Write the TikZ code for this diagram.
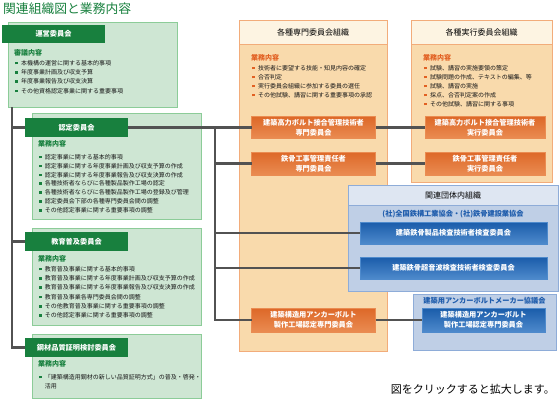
\documentclass[tikz,border=0pt]{standalone}
\usepackage{fontspec}
\setmainfont{Noto Sans CJK JP}
\usepackage{xcolor}
\usepackage{tikz}
\usetikzlibrary{positioning}
\definecolor{kikougreen}{RGB}{24,128,62}
\definecolor{kikoulight}{RGB}{206,230,211}
\definecolor{kikouline}{RGB}{140,204,152}
\definecolor{senmonpeach}{RGB}{249,218,172}
\definecolor{senmonline}{RGB}{242,172,122}
\definecolor{senmoncream}{RGB}{253,244,226}
\definecolor{senmondark}{RGB}{221,104,40}
\definecolor{senmonlite}{RGB}{234,140,82}
\definecolor{senmontext}{RGB}{226,96,34}
\definecolor{dantaiblue}{RGB}{191,207,230}
\definecolor{dantailine}{RGB}{142,172,216}
\definecolor{dantaihead}{RGB}{222,230,242}
\definecolor{dantaidark}{RGB}{26,92,170}
\definecolor{dantailite}{RGB}{78,138,204}
\definecolor{dantaitext}{RGB}{30,92,172}
\definecolor{connline}{RGB}{82,82,82}
\definecolor{itemtext}{RGB}{25,25,25}
\newcommand{\sqmark}[1]{\textcolor{#1}{\rule[0.9pt]{2.6pt}{2.6pt}}\hspace{3.5pt}}
\newcommand{\gitem}{\sqmark{kikougreen}}
\newcommand{\oitem}{\sqmark{senmontext}}
\tikzset{
    panel/.style={inner sep=0, outer sep=0, line width=0.8},
    grnpanel/.style={panel, fill=kikoulight, draw=kikouline},
    grnbar/.style={panel, fill=kikougreen, text=white, minimum width=103, minimum height=19, font=\fontsize{7.2}{8}\selectfont\bfseries},
    orgpanel/.style={panel, fill=senmonpeach, draw=senmonline},
    orghead/.style={panel, fill=senmoncream, draw=senmonline, font=\fontsize{8}{9}\selectfont},
    orgnode/.style={panel, draw=senmonlite, top color=senmondark, bottom color=senmonlite, text=white, align=center, font=\fontsize{7.2}{9.6}\selectfont\bfseries},
    bluepanel/.style={panel, fill=dantaiblue, draw=dantailine},
    bluehead/.style={panel, fill=dantaihead, draw=dantailine, font=\fontsize{8}{9}\selectfont},
    bluenode/.style={panel, draw=dantailite, top color=dantaidark, bottom color=dantailite, text=white, align=center, font=\fontsize{7.2}{9.6}\selectfont\bfseries},
    wlabel/.style={inner sep=0, anchor=west, font=\fontsize{7}{8}\selectfont\bfseries},
    itemlist/.style={inner sep=0, anchor=north west, align=left, text=itemtext},
    conn/.style={draw=connline, line width=2.2}
}

\begin{document}
\begin{tikzpicture}[x=1pt, y=-1pt]
        \useasboundingbox (0,0) rectangle (560,400);

        % Title
        \node[anchor=west, inner sep=0, text=kikougreen, font=\fontsize{12.8}{14}\selectfont] (title) at (3,8.5) {関連組織図と業務内容};

        % Green committee panels
        \node[grnpanel, minimum width=169, minimum height=85] (unei) at (92.5,64.5) {};
        \node[grnpanel, minimum width=169, minimum height=106] (nintei) at (116.5,166) {};
        \node[grnpanel, minimum width=169, minimum height=97] (kyoiku) at (116.5,276.5) {};
        \node[grnpanel, minimum width=169, minimum height=64] (kozai) at (116.5,366) {};

        % Orange and blue panels
        \node[orgpanel, minimum width=148, minimum height=331] (senmon) at (313,185.5) {};
        \node[orghead, minimum width=148, minimum height=24] (senmon-head) at (313,32) {各種専門委員会組織};
        \node[orgpanel, minimum width=141, minimum height=162] (jikko) at (481.5,101) {};
        \node[orghead, minimum width=141, minimum height=24] (jikko-head) at (481.5,32) {各種実行委員会組織};
        \node[bluepanel, minimum width=210, minimum height=106] (dantai) at (453,238) {};
        \node[bluehead, minimum width=210, minimum height=20] (dantai-head) at (453,195) {関連団体内組織};
        \node[bluepanel, minimum width=143, minimum height=56] (maker) at (484.5,322) {};

        % Header bars
        \node[grnbar, minimum height=18] (unei-bar) at (53.5,34) {運営委員会};
        \node[grnbar] (nintei-bar) at (76.5,127.5) {認定委員会};
        \node[grnbar] (kyoiku-bar) at (76.5,241.5) {教育普及委員会};
        \node[grnbar] (kozai-bar) at (76.5,347.5) {鋼材品質証明検討委員会};

        % Labels
        \node[wlabel, text=kikougreen] (unei-lbl) at (14,53) {審議内容};
        \node[wlabel, text=kikougreen] (nintei-lbl) at (38,144) {業務内容};
        \node[wlabel, text=kikougreen] (kyoiku-lbl) at (38,259) {業務内容};
        \node[wlabel, text=kikougreen] (kozai-lbl) at (38,364) {業務内容};
        \node[wlabel, text=senmontext] (senmon-lbl) at (251,58) {業務内容};
        \node[wlabel, text=senmontext] (jikko-lbl) at (423,58) {業務内容};

        % Item lists
        \node[itemlist, font=\fontsize{6}{9.3}\selectfont] (unei-list) at (14.7,60) {\gitem 本機構の運営に関する基本的事項\\
            \gitem 年度事業計画及び収支予算\\
            \gitem 年度事業報告及び収支決算\\
            \gitem その他資格認定事業に関する重要事項};
        \node[itemlist, font=\fontsize{6}{8.9}\selectfont] (nintei-list) at (38.7,154) {\gitem 認定事業に関する基本的事項\\
            \gitem 認定事業に関する年度事業計画及び収支予算の作成\\
            \gitem 認定事業に関する年度事業報告及び収支決算の作成\\
            \gitem 各種技術者ならびに各種製品製作工場の認定\\
            \gitem 各種技術者ならびに各種製品製作工場の登録及び管理\\
            \gitem 認定委員会下部の各種専門委員会間の調整\\
            \gitem その他認定事業に関する重要事項の調整};
        \node[itemlist, font=\fontsize{6}{9.3}\selectfont] (kyoiku-list) at (38.7,266) {\gitem 教育普及事業に関する基本的事項\\
            \gitem 教育普及事業に関する年度事業計画及び収支予算の作成\\
            \gitem 教育普及事業に関する年度事業報告及び収支決算の作成\\
            \gitem 教育普及事業各専門委員会間の調整\\
            \gitem その他教育普及事業に関する重要事項の調整\\
            \gitem その他認定事業に関する重要事項の調整};
        \node[itemlist, font=\fontsize{6}{9}\selectfont] (kozai-list) at (38.7,374) {\gitem 「建築構造用鋼材の新しい品質証明方式」の普及・啓発・\\
            \hspace{6.1pt}活用};
        \node[itemlist, font=\fontsize{6}{9}\selectfont] (senmon-list) at (251.7,65) {\oitem 技術者に要望する技能・知見内容の確定\\
            \oitem 合否判定\\
            \oitem 実行委員会組織に参加する委員の選任\\
            \oitem その他試験、講習に関する重要事項の承認};
        \node[itemlist, font=\fontsize{6}{9}\selectfont] (jikko-list) at (423.7,65) {\oitem 試験、講習の実施要領の策定\\
            \oitem 試験問題の作成、テキストの編集、等\\
            \oitem 試験、講習の実施\\
            \oitem 採点、合否判定案の作成\\
            \oitem その他試験、講習に関する事項};

        % Committee nodes
        \node[orgnode, minimum width=124, minimum height=22] (senmon-bolt) at (313.5,127.5) {建築高力ボルト接合管理技術者\\専門委員会};
        \node[orgnode, minimum width=124, minimum height=23] (senmon-tekkotsu) at (313.5,163.5) {鉄骨工事管理責任者\\専門委員会};
        \node[orgnode, minimum width=124, minimum height=24] (senmon-anchor) at (313.5,320) {建築構造用アンカーボルト\\製作工場認定専門委員会};
        \node[orgnode, minimum width=120, minimum height=22] (jikko-bolt) at (485,127.5) {建築高力ボルト接合管理技術者\\実行委員会};
        \node[orgnode, minimum width=120, minimum height=23] (jikko-tekkotsu) at (485,163.5) {鉄骨工事管理責任者\\実行委員会};
        \node[font=\fontsize{7.2}{8}\selectfont\bfseries, text=dantaitext, inner sep=0] (dantai-sub) at (453,214) {(社)全国鉄構工業協会・(社)鉄骨建設業協会};
        \node[bluenode, minimum width=187, minimum height=22] (dantai-seihin) at (453.5,233) {建築鉄骨製品検査技術者検査委員会};
        \node[bluenode, minimum width=187, minimum height=22] (dantai-onpa) at (453.5,268) {建築鉄骨超音波検査技術者検査委員会};
        \node[font=\fontsize{7.2}{8}\selectfont\bfseries, text=dantaitext, inner sep=0] (maker-title) at (484.5,301) {建築用アンカーボルトメーカー協議会};
        \node[bluenode, minimum width=123, minimum height=24] (maker-anchor) at (483.5,320) {建築構造用アンカーボルト\\製作工場認定専門委員会};

        % Left trunk
        \coordinate (trunk) at ([xshift=4]unei.south west);
        \draw[conn] (trunk) |- (kozai-bar.west);
        \draw[conn] (trunk |- nintei-bar.west) -- (nintei-bar.west);
        \draw[conn] (trunk |- kyoiku-bar.west) -- (kyoiku-bar.west);

        % Branches to the committees
        \coordinate (branch) at ([xshift=87]nintei-bar.east);
        \draw[conn] (nintei-bar.east) -- (senmon-bolt.west);
        \draw[conn] (branch) |- (senmon-anchor.west);
        \draw[conn] (branch |- senmon-tekkotsu.west) -- (senmon-tekkotsu.west);
        \draw[conn] (branch |- dantai-seihin.west) -- (dantai-seihin.west);
        \draw[conn] (branch |- dantai-onpa.west) -- (dantai-onpa.west);
        \draw[conn] (senmon-bolt.east) -- (jikko-bolt.west);
        \draw[conn] (senmon-tekkotsu.east) -- (jikko-tekkotsu.west);
        \draw[conn] (senmon-anchor.east) -- (maker-anchor.west);

        % Note
        \node[anchor=east, inner sep=0, font=\fontsize{11}{12}\selectfont] (note) at (555,389) {図をクリックすると拡大します。};
\end{tikzpicture}
\end{document}
